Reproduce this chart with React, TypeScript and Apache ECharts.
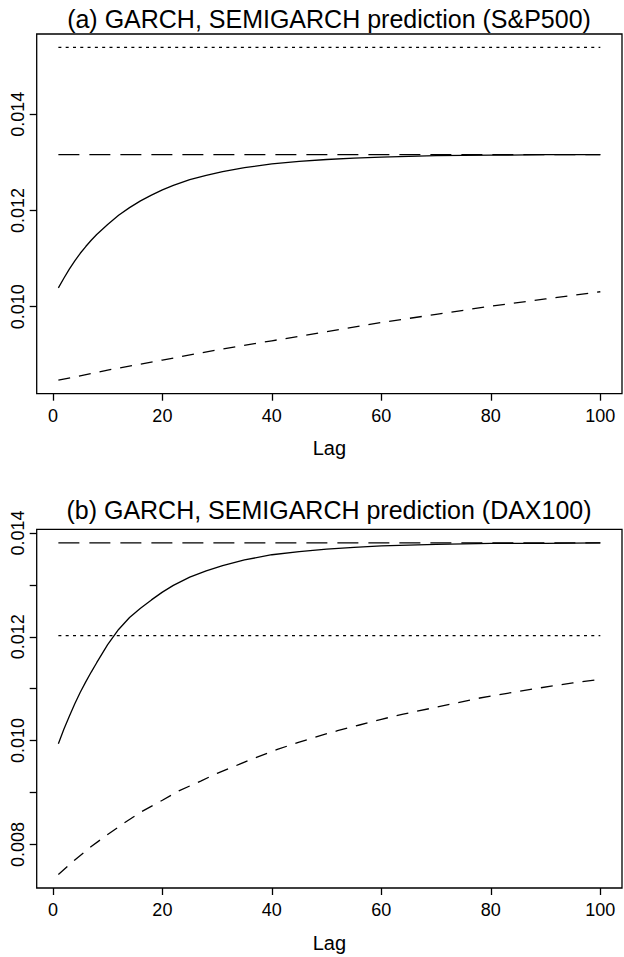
import React, { useEffect, useRef } from "react";
import * as echarts from "echarts";

const FONT = '"Liberation Sans", Arial, Helvetica, sans-serif';

const titleA = "(a) GARCH, SEMIGARCH prediction (S&P500)";
const titleB = "(b) GARCH, SEMIGARCH prediction (DAX100)";
const xName = "Lag";

const xTicks = [0, 20, 40, 60, 80, 100];
const yTicksA = [0.01, 0.012, 0.014];
const yLabelsA = [0.01, 0.012, 0.014];
const yTicksB = [0.008, 0.009, 0.01, 0.011, 0.012, 0.013, 0.014];
const yLabelsB = [0.008, 0.01, 0.012, 0.014];

// lags for the solid curves
const solidLags = [1, 2, 3, 4, 5, 6, 7, 8, 10, 12, 14, 16, 18, 20, 22, 25, 28, 31, 35, 40, 45, 50, 55, 60, 70, 80, 90, 100];
const sp500Solid = [0.01039, 0.01059, 0.01078, 0.01095, 0.01111, 0.01125, 0.01138, 0.0115, 0.01171, 0.0119, 0.01206, 0.0122, 0.01232, 0.01243, 0.01252, 0.01264, 0.01273, 0.01281, 0.01289, 0.01297, 0.01302, 0.01306, 0.01309, 0.01311, 0.01314, 0.01315, 0.01316, 0.01316];
const daxSolid = [0.00994, 0.01022, 0.01047, 0.01071, 0.01093, 0.01113, 0.01132, 0.0115, 0.01185, 0.01214, 0.01237, 0.01255, 0.01271, 0.01286, 0.01299, 0.01315, 0.01327, 0.01337, 0.01348, 0.01358, 0.01364, 0.01369, 0.01372, 0.01375, 0.01378, 0.0138, 0.0138, 0.01381];

// lower dashed curves
const sp500DashLags = [1, 10, 20, 30, 40, 50, 60, 70, 80, 90, 100];
const sp500Dashed = [0.00847, 0.00868, 0.00889, 0.0091, 0.00929, 0.00948, 0.00967, 0.00984, 0.01001, 0.01016, 0.01031];
const daxDashLags = [1, 4, 7, 10, 13, 16, 20, 23, 27, 30, 34, 37, 41, 45, 49, 52, 56, 60, 64, 69, 74, 78, 83, 87, 91, 95, 100];
const daxDashed = [0.00742, 0.0077, 0.00796, 0.00819, 0.00841, 0.00862, 0.00885, 0.00903, 0.00922, 0.00937, 0.00954, 0.00967, 0.00983, 0.00997, 0.0101, 0.01019, 0.0103, 0.01041, 0.01051, 0.01062, 0.01073, 0.01082, 0.01091, 0.01098, 0.01105, 0.01111, 0.01118];

// horizontal reference levels
const levelLags = [1, 100];
const sp500LongDash = 0.01316;
const sp500Dotted = 0.01539;
const daxLongDash = 0.01381;
const daxDotted = 0.01202;

const LW = 1.3;
const SOLID = "solid";
const DASH = [12, 9];
const LONGDASH = [21, 10];
const DOTTED = [3, 4.3];

function pairs(xs: number[], ys: number[]) {
  return xs.map((x, i) => [x, ys[i]]);
}

function lineSeries(idx: number, data: number[][], type: any) {
  return {
    type: "line",
    xAxisIndex: idx,
    yAxisIndex: idx,
    data,
    symbol: "none",
    showSymbol: false,
    silent: true,
    lineStyle: { color: "#000", width: LW, type },
  };
}

function makeX(idx: number) {
  return {
    gridIndex: idx,
    type: "value",
    min: -2.96,
    max: 103.96,
    axisLine: { show: false, onZero: false },
    axisTick: { show: true, length: 7, customValues: xTicks, lineStyle: { color: "#000", width: LW } },
    axisLabel: { customValues: xTicks, margin: 13, fontSize: 18, color: "#000", fontFamily: FONT },
    splitLine: { show: false },
    name: xName,
    nameLocation: "middle",
    nameGap: 44.5,
    nameTextStyle: { fontSize: 20, color: "#000", fontFamily: FONT },
  };
}

function makeY(idx: number, min: number, max: number, ticks: number[], labels: number[]) {
  return {
    gridIndex: idx,
    type: "value",
    min,
    max,
    axisLine: { show: false, onZero: false },
    axisTick: { show: true, length: 7, customValues: ticks, lineStyle: { color: "#000", width: LW } },
    axisLabel: {
      customValues: labels,
      rotate: 90,
      margin: 10,
      fontSize: 18,
      color: "#000",
      fontFamily: FONT,
      formatter: (v: number) => v.toFixed(3),
    },
    splitLine: { show: false },
  };
}

export default function App() {
  const ref = useRef<HTMLDivElement>(null);
  useEffect(() => {
    document.body.style.margin = "0";
    const chart = echarts.init(ref.current!, null, { renderer: "svg" });
    const option: any = {
      animation: false,
      backgroundColor: "#fff",
      graphic: [
        { type: "text", x: 329, y: 18.5, style: { text: titleA, font: `25px ${FONT}`, fill: "#000", textAlign: "center", textVerticalAlign: "middle" } },
        { type: "text", x: 329, y: 510, style: { text: titleB, font: `25px ${FONT}`, fill: "#000", textAlign: "center", textVerticalAlign: "middle" } },
      ],
      grid: [
        { left: 36.7, top: 34, width: 585.3, height: 359.7, show: true, borderColor: "#000", borderWidth: LW, backgroundColor: "transparent", containLabel: false, outerBoundsMode: "none" },
        { left: 36.7, top: 529.3, width: 585.3, height: 358.7, show: true, borderColor: "#000", borderWidth: LW, backgroundColor: "transparent", containLabel: false, outerBoundsMode: "none" },
      ],
      xAxis: [makeX(0), makeX(1)],
      yAxis: [
        makeY(0, 0.00819, 0.01567, yTicksA, yLabelsA),
        makeY(1, 0.00716, 0.01407, yTicksB, yLabelsB),
      ],
      series: [
        lineSeries(0, pairs(levelLags, [sp500Dotted, sp500Dotted]), DOTTED),
        lineSeries(0, pairs(levelLags, [sp500LongDash, sp500LongDash]), LONGDASH),
        lineSeries(0, pairs(solidLags, sp500Solid), SOLID),
        lineSeries(0, pairs(sp500DashLags, sp500Dashed), DASH),
        lineSeries(1, pairs(levelLags, [daxLongDash, daxLongDash]), LONGDASH),
        lineSeries(1, pairs(levelLags, [daxDotted, daxDotted]), DOTTED),
        lineSeries(1, pairs(solidLags, daxSolid), SOLID),
        lineSeries(1, pairs(daxDashLags, daxDashed), DASH),
      ],
    };
    chart.setOption(option);
    return () => chart.dispose();
  }, []);
  return <div ref={ref} style={{ width: 624, height: 957 }} />;
}
